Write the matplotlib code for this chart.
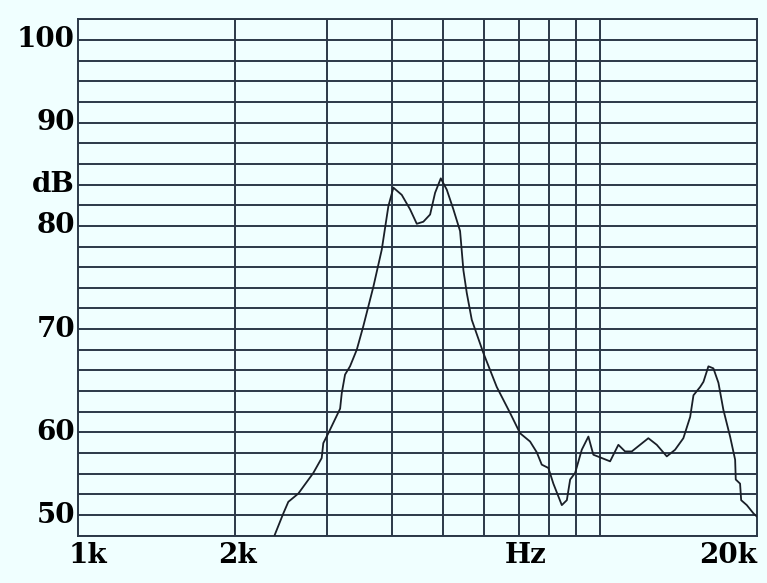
import matplotlib
matplotlib.use("Agg")
import matplotlib.pyplot as plt
import numpy as np

# frequency response
freq = [2380, 2472, 2527, 2641, 2822, 2928, 2949, 3015, 3176, 3199, 3246, 3318,
        3418, 3519, 3678, 3817, 3930, 4018, 4169, 4325, 4455, 4586, 4725, 4830,
        4953, 5086, 5236, 5393, 5473, 5555, 5679, 5976, 6341, 6723, 7028, 7345,
        7565, 7734, 7963, 8141, 8450, 8640, 8767, 8962, 9228, 9502, 9712, 10080,
        10457, 10846, 11171, 11508, 12380, 12850, 13430, 13930, 14450, 14890,
        15110, 15560, 15790, 16140, 16500, 16870, 17240, 17760, 18160, 18210,
        18560, 18650, 19120, 19690, 20000]
level = [47.6, 50.2, 51.6, 52.6, 55.1, 56.9, 58.7, 59.9, 62.3, 63.8, 65.6, 66.4,
         68.0, 70.3, 74.1, 77.7, 81.9, 83.7, 83.0, 81.6, 80.2, 80.4, 81.1, 83.2,
         84.6, 83.5, 81.6, 79.5, 75.7, 73.5, 70.9, 67.7, 64.4, 61.9, 59.9, 58.9,
         57.6, 56.1, 55.7, 53.8, 51.2, 51.8, 54.3, 55.1, 57.9, 59.5, 57.3, 56.9,
         56.5, 58.5, 57.7, 57.7, 59.3, 58.5, 57.1, 57.9, 59.3, 61.5,
         63.6, 64.4, 64.9, 66.4, 66.2, 64.8, 62.2, 59.5, 56.7, 54.3,
         53.8, 51.8, 51.2, 50.2, 49.8]

x_labels = ["1k", "2k", "Hz", "20k"]
x_label_pos = [1000, 2000, 7200, 20000]
vlines = [2000, 3000, 4000, 5000, 6000, 7000, 8000, 9000, 10000]
y_ticks = [50, 60, 70, 80, 90, 100]

# the printed dB scale is uneven: map dB onto grid-line index
db_pts = np.array([47.5, 50, 60, 70, 80, 90, 100, 102.5])
idx_pts = np.array([0, 1, 5, 10, 15, 20, 24, 25])

def fwd(v):
    return np.interp(v, db_pts, idx_pts)

def inv(v):
    return np.interp(v, idx_pts, db_pts)

bg = "#f0ffff"
gc = "#2b3848"
fnt = dict(family="DejaVu Serif", weight="bold", size=20)

fig = plt.figure(figsize=(7.67, 5.83), dpi=100, facecolor=bg)
ax = fig.add_axes([78.3/767, 1-535.7/583, (757-78.3)/767, (535.7-19.3)/583])
ax.set_facecolor(bg)
ax.set_xscale("log")
ax.set_yscale("function", functions=(fwd, inv))
ax.set_xlim(1000, 20000)
ax.set_ylim(47.5, 102.5)

for k in range(26):
    ax.axhline(inv(k), color=gc, lw=1.4, zorder=1)
for v in vlines:
    ax.axvline(v, color=gc, lw=1.4, zorder=1)

ax.plot(freq, level, color="#1a1f28", lw=1.3, zorder=3)

ax.set_xticks([])
ax.set_yticks([])
ax.minorticks_off()
for s in ax.spines.values():
    s.set_color(gc)
    s.set_linewidth(1.4)

for v in y_ticks:
    ax.text(-0.005, v, str(v), transform=ax.get_yaxis_transform(),
            ha="right", va="center", **fnt)
ax.text(-0.005, inv(17), "dB", transform=ax.get_yaxis_transform(),
        ha="right", va="center", **fnt)

aligns = ["center", "center", "center", "right"]
offs = [10, 2, 0, 0]
for lab, pos, al, o in zip(x_labels, x_label_pos, aligns, offs):
    ax.annotate(lab, (pos, 0), xycoords=ax.get_xaxis_transform(),
                xytext=(o, -6), textcoords="offset pixels",
                ha=al, va="top", **fnt)

fig.savefig("out.png", dpi=100, facecolor=bg)
